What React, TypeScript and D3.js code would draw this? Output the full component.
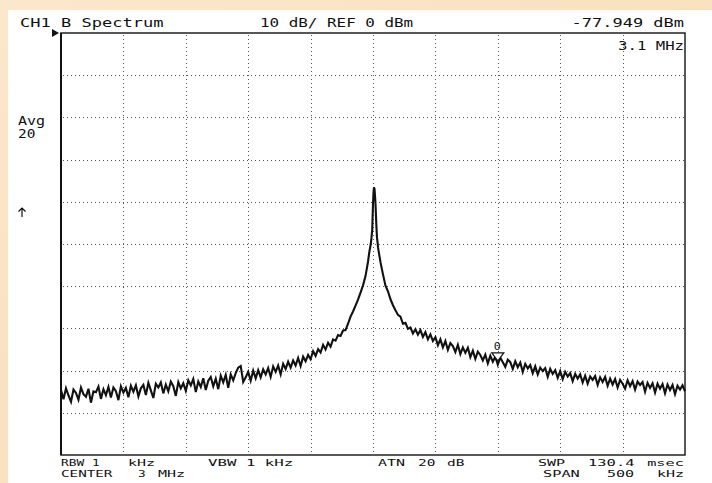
import React from "react";
import * as d3 from "d3";

// ---- instrument settings / labels ----
const centerMHz = 3;
const spanKHz = 500;
const refLevelDbm = 0;
const dbPerDiv = 10;
const divisions = 10;

// ---- broad trace: offsets from center, 2 kHz per point starting at -250 kHz ----
const traceStartKHz = -250;
const traceStepKHz = 2;
const traceLevels = [
  -84.6, -86.8, -84.2, -85.9, -87.4, -84.5, -85.3, -86.9, -84.0, -85.6,
  -86.2, -84.3, -87.6, -84.9, -85.1, -83.8, -86.7, -84.4, -85.8, -83.9,
  -86.4, -84.0, -84.9, -87.0, -83.7, -85.2, -84.1, -86.3, -83.6, -85.0,
  -83.5, -86.1, -84.2, -83.4, -85.8, -82.9, -84.7, -86.5, -83.1, -84.0,
  -82.8, -85.4, -83.3, -84.9, -82.6, -83.7, -86.0, -82.7, -84.2, -83.0,
  -84.8, -82.3, -83.5, -82.0, -85.1, -82.6, -83.9, -81.8, -84.6, -82.4,
  -81.5, -83.7, -81.9, -84.4, -81.2, -82.8, -81.0, -84.1, -80.9, -82.3,
  -80.6, -79.3, -78.9, -82.7, -81.6, -80.3, -82.4, -80.0, -81.8, -79.9,
  -81.6, -79.7, -80.9, -79.4, -81.5, -79.0, -80.3, -78.8, -80.9, -78.4,
  -79.6, -77.9, -79.3, -77.6, -78.8, -77.0, -78.9, -76.7, -77.8, -76.3,
  -77.3, -75.4, -76.5, -74.9, -75.7, -73.9, -75.0, -73.4, -74.3, -72.6,
  -72.9, -71.6, -71.8, -70.5, -70.4, -68.9, -67.2, -66.0, -64.6, -63.2,
  -61.5, -59.8, -57.6, -54.2, -51.0, -40.0, -41.0, -50.8, -54.3, -57.2,
  -59.9, -61.2, -63.1, -64.5, -65.7, -66.8, -67.2, -68.9, -68.7, -70.1,
  -69.8, -71.2, -70.2, -71.5, -70.4, -72.0, -70.9, -72.6, -71.4, -73.0,
  -72.1, -74.0, -72.6, -74.5, -73.0, -75.1, -73.5, -74.2, -75.6, -73.9,
  -76.1, -74.5, -75.8, -74.6, -76.8, -75.3, -77.2, -75.5, -76.3, -77.6,
  -76.2, -78.3, -76.5, -77.9, -76.7, -78.6, -76.9, -78.0, -79.1, -77.4,
  -78.0, -79.6, -77.8, -79.2, -78.1, -80.3, -78.4, -79.5, -78.7, -80.6,
  -79.0, -80.9, -79.3, -80.1, -79.4, -81.5, -79.6, -80.8, -79.9, -81.7,
  -80.1, -82.0, -80.3, -81.4, -80.6, -82.5, -80.8, -81.9, -80.9, -82.8,
  -81.2, -83.1, -81.4, -82.2, -81.3, -83.4, -81.6, -82.7, -81.5, -83.6,
  -81.9, -83.3, -82.0, -84.0, -82.2, -83.1, -84.3, -82.3, -83.7, -82.5,
  -84.5, -82.6, -83.4, -82.7, -85.0, -82.9, -84.1, -83.0, -85.2, -83.1,
  -84.3, -83.2, -85.4, -83.3, -84.6, -83.4, -85.6, -83.6, -84.5, -83.5, -84.9,
];

// ---- fine detail around the carrier peak (kHz offset, dBm) ----
const peakOffsetsKHz = [-3.0, -2.4, -1.8, -1.2, -0.6, 0.0, 0.4, 0.8, 1.2, 1.6, 2.0, 2.6, 3.2, 3.8];
const peakLevels = [-52.0, -51.0, -50.0, -48.5, -46.5, -40.5, -37.8, -36.6, -36.9, -38.5, -40.5, -45.0, -48.5, -50.0];

// ---- marker ----
const markerFreqMHz = 3.1;
const markerLevelDbm = -77.949;
const markerLabel = "0";

// ---- annotation texts ----
const headerLeft = "CH1 B  Spectrum";
const headerMid = "10 dB/ REF 0 dBm";
const headerRight = "-77.949 dBm";
const markerFreqText = "3.1 MHz";
const avgLines = ["Avg", "20"];

const W = 712;
const H = 483;
const plot = { left: 61, top: 33, right: 685, bottom: 455 };
const FONT = "'DejaVu Sans Mono', 'Liberation Mono', monospace";

function T({ x, y, s, size = 12, w = 9.7, anchor = "start" }: { x: number; y: number; s: string; size?: number; w?: number; anchor?: string }) {
  const len = s.length * w - 2;
  const x0 = anchor === "end" ? x - len : x;
  return (
    <text x={x0} y={y} fontFamily={FONT} fontSize={size} fill="#111" textLength={len} lengthAdjust="spacingAndGlyphs">
      {s}
    </text>
  );
}

export default function App() {
  const x = d3
    .scaleLinear()
    .domain([-spanKHz / 2, spanKHz / 2])
    .range([plot.left, plot.right]);
  const y = d3
    .scaleLinear()
    .domain([refLevelDbm - dbPerDiv * divisions, refLevelDbm])
    .range([plot.bottom, plot.top]);

  const pLo = peakOffsetsKHz[0];
  const pHi = peakOffsetsKHz[peakOffsetsKHz.length - 1];
  const pts = traceLevels
    .map((v, i) => ({ f: traceStartKHz + i * traceStepKHz, v }))
    .filter((p) => p.f < pLo || p.f > pHi)
    .concat(peakOffsetsKHz.map((f, i) => ({ f, v: peakLevels[i] })))
    .sort((a, b) => a.f - b.f);

  const line = d3
    .line<{ f: number; v: number }>()
    .x((d) => x(d.f))
    .y((d) => y(d.v));

  const xTicks = d3.range(1, divisions).map((i) => -spanKHz / 2 + (i * spanKHz) / divisions);
  const yTicks = d3.range(1, divisions).map((i) => refLevelDbm - i * dbPerDiv);

  const mx = x((markerFreqMHz - centerMHz) * 1000);
  const my = y(markerLevelDbm);

  const fs = 9.5;
  const r1 = 466;
  const r2 = 476.5;

  return (
    <svg width={W} height={H} style={{ position: "absolute", left: 0, top: 0 }}>
      <defs>
        <linearGradient id="bg" x1="0" y1="0" x2="1" y2="1">
          <stop offset="0" stopColor="#fbe7cc" />
          <stop offset="0.5" stopColor="#f9e1c0" />
          <stop offset="1" stopColor="#fcebd6" />
        </linearGradient>
      </defs>
      <rect x={0} y={0} width={W} height={H} fill="url(#bg)" />
      <rect x={8} y={10} width={W - 8} height={H - 10} fill="#fff" />

      {/* grid */}
      {xTicks.map((t) => (
        <line key={"vx" + t} x1={Math.round(x(t)) + 0.5} x2={Math.round(x(t)) + 0.5} y1={plot.top + 2} y2={plot.bottom} stroke="#555" strokeDasharray="1 3" />
      ))}
      {yTicks.map((t) => (
        <line key={"hy" + t} x1={plot.left + 2} x2={plot.right} y1={Math.round(y(t)) + 0.5} y2={Math.round(y(t)) + 0.5} stroke="#555" strokeDasharray="1 3" />
      ))}

      {/* frame */}
      <rect x={plot.left} y={plot.top} width={plot.right - plot.left} height={plot.bottom - plot.top} fill="none" stroke="#222" strokeWidth={1.5} />
      <line x1={plot.left} x2={plot.left} y1={plot.top} y2={plot.bottom} stroke="#111" strokeWidth={2} />

      {/* reference level marker */}
      <path d={`M52,${y(refLevelDbm) - 4} L59,${y(refLevelDbm)} L52,${y(refLevelDbm) + 4} Z`} fill="#111" />

      {/* trace */}
      <path d={line(pts) || ""} fill="none" stroke="#111" strokeWidth={2.1} strokeLinejoin="miter" />

      {/* marker */}
      <path d={`M${mx - 6},${my - 9} L${mx + 6},${my - 9} L${mx},${my - 1} Z`} fill="#fff" stroke="#111" strokeWidth={1.2} />
      <T x={mx - 4} y={my - 12} s={markerLabel} size={10} w={9} />

      {/* header */}
      <T x={20} y={27} s={headerLeft} />
      <T x={260} y={27} s={headerMid} w={9.7} />
      <T x={684} y={27} s={headerRight} anchor="end" w={10.4} />
      <T x={684} y={50} s={markerFreqText} anchor="end" />
      <T x={18} y={125} s={avgLines[0]} />
      <T x={18} y={138} s={avgLines[1]} />
      <path d="M22,217 L22,208 M18.5,211.5 L22,208 L25.5,211.5" fill="none" stroke="#111" strokeWidth={1.2} />

      {/* footer */}
      <T x={61} y={r1} s="RBW" size={fs} w={8.4} />
      <T x={92} y={r1} s="1" size={fs} />
      <T x={128} y={r1} s="kHz" size={fs} />
      <T x={208} y={r1} s="VBW 1 kHz" size={fs} />
      <T x={378} y={r1} s="ATN" size={fs} />
      <T x={418} y={r1} s="20" size={fs} />
      <T x={447} y={r1} s="dB" size={fs} />
      <T x={538} y={r1} s="SWP" size={fs} />
      <T x={588} y={r1} s="130.4" size={fs} />
      <T x={684} y={r1} s="msec" size={fs} anchor="end" />
      <T x={61} y={r2} s="CENTER" size={fs} w={8.9} />
      <T x={138} y={r2} s="3" size={fs} />
      <T x={158} y={r2} s="MHz" size={fs} />
      <T x={543} y={r2} s="SPAN" size={fs} />
      <T x={607} y={r2} s="500" size={fs} />
      <T x={684} y={r2} s="kHz" size={fs} anchor="end" />
    </svg>
  );
}
